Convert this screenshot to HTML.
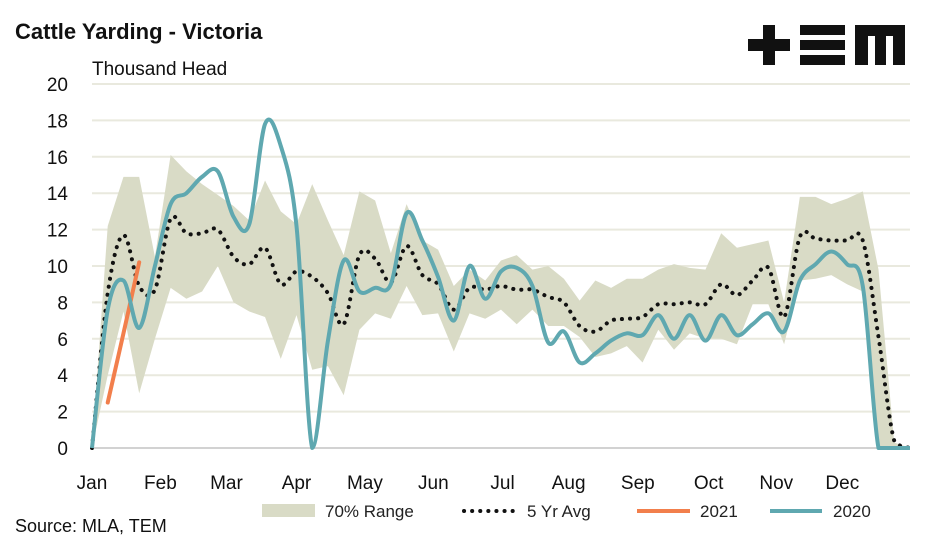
<!DOCTYPE html>
<html><head><meta charset="utf-8"><style>
body{margin:0;background:#fff;}
svg{display:block;font-family:"Liberation Sans",sans-serif;}
</style></head><body>
<svg id="c" width="947" height="543" viewBox="0 0 947 543">
<text x="15" y="39" font-size="22" font-weight="bold" fill="#111">Cattle Yarding - Victoria</text>
<text x="92" y="75" font-size="19" fill="#111">Thousand Head</text>
<g fill="#111">
<rect x="748" y="39" width="42" height="12"/><rect x="763" y="25" width="12" height="40"/>
<rect x="800" y="25" width="45" height="10"/><rect x="800" y="40" width="45" height="10"/><rect x="800" y="55" width="45" height="10"/>
<rect x="855" y="25" width="50" height="40"/><rect x="868" y="36" width="7" height="29" fill="#fff"/><rect x="886" y="36" width="7" height="29" fill="#fff"/>
</g>
<g id="grid"></g><g id="band"></g><g id="lines"></g><g id="ticks"></g>
<g>
<rect x="262" y="504" width="53" height="13" fill="#d9dbc6"/>
<text x="325" y="517" font-size="17" fill="#222">70% Range</text>
<line x1="464" y1="511" x2="515" y2="511" stroke="#111" stroke-width="4" stroke-dasharray="0.1 8" stroke-linecap="round"/>
<text x="527" y="517" font-size="17" fill="#222">5 Yr Avg</text>
<line x1="637" y1="511" x2="690" y2="511" stroke="#f27f4c" stroke-width="4"/>
<text x="700" y="517" font-size="17" fill="#222">2021</text>
<line x1="770" y1="511" x2="822" y2="511" stroke="#5fa8b0" stroke-width="4"/>
<text x="833" y="517" font-size="17" fill="#222">2020</text>
</g>
<text x="15" y="532" font-size="18" fill="#111">Source: MLA, TEM</text>
</svg>
<script>
const yTicks=[0,2,4,6,8,10,12,14,16,18,20];
const months=["Jan","Feb","Mar","Apr","May","Jun","Jul","Aug","Sep","Oct","Nov","Dec"];
const monthWeeks=[0,4.35,8.55,13,17.35,21.7,26.1,30.3,34.7,39.2,43.5,47.7];
const rangeHigh=[0,12.2,14.9,14.9,10.5,16.1,15.2,14.5,13.9,13.3,12.5,14.7,13.0,12.3,14.5,12.5,10.6,14.1,13.6,10.7,13.4,11.4,10.9,8.9,9.8,9.2,10.3,10.6,9.8,10.0,9.3,8.1,9.2,8.8,9.3,9.3,9.8,10.1,9.9,9.8,11.8,11.0,11.2,11.4,8.0,13.8,13.8,13.4,13.7,14.1,9.8,0.3,0];
const rangeLow=[0,4,7.5,3.0,6,8.8,8.2,8.6,10.0,8.0,7.5,7.2,4.9,7.3,4.3,4.5,2.9,6.5,7.4,7.1,8.9,7.3,7.4,5.3,7.4,7.1,7.6,6.8,7.6,6.7,6.7,6.1,5.0,5.2,5.6,4.7,6.5,5.4,6.3,6.0,6.0,5.7,7.9,7.9,5.7,9.2,9.3,9.5,9.0,8.6,0,0,0];
const avg5=[0,8.5,11.7,8.9,8.7,12.6,11.8,11.8,12.0,10.5,10.1,11.0,9.0,9.7,9.4,8.5,6.8,10.6,10.4,9.1,11.1,9.5,9.0,7.6,8.8,8.7,8.9,8.7,8.7,8.3,8.0,6.7,6.4,7.0,7.1,7.2,7.9,7.9,8.0,7.9,9.0,8.4,9.2,9.9,7.2,11.6,11.5,11.4,11.4,11.4,6.1,0.4,0];
const y2020=[0,7.6,9.2,6.6,10.0,13.4,14.0,14.9,15.2,12.7,12.3,17.8,16.6,12.2,0,5.9,10.3,8.6,8.8,9.0,12.9,11.4,9.4,7.0,10.0,8.2,9.7,9.9,8.9,5.8,6.4,4.7,5.2,5.9,6.3,6.2,7.3,6.0,7.3,5.9,7.3,6.2,6.8,7.4,6.4,9.2,10.1,10.8,10.1,8.9,0,0,0];
const y2021=[null,2.5,6.3,10.2];
const NS="http://www.w3.org/2000/svg";
const X=i=>92+i*15.73, Y=v=>448-v*18.2;
function mk(t,a,p){const e=document.createElementNS(NS,t);for(const k in a)e.setAttribute(k,a[k]);p.appendChild(e);return e;}
const grid=document.getElementById('grid'),ticks=document.getElementById('ticks');
yTicks.forEach(v=>{
 const l=mk('line',{x1:92,x2:910,y1:Y(v),y2:Y(v),stroke:v==0?'#d2d2d2':'#e9e9de','stroke-width':2},grid);
 
 
 const t=mk('text',{x:68,y:Y(v)+7,'text-anchor':'end','font-size':19,fill:'#111'},ticks);t.textContent=v;
 
 
});
months.forEach((m,i)=>{
 const t=mk('text',{x:X(monthWeeks[i]),y:489,'text-anchor':'middle','font-size':19,fill:'#111'},ticks);t.textContent=m;
 
 
});
let d='M'+rangeHigh.map((v,i)=>X(i)+','+Y(v)).join('L');
for(let i=rangeLow.length-1;i>=0;i--)d+='L'+X(i)+','+Y(rangeLow[i]);
const band=mk('path',{d:d+'Z',fill:'#d9dbc6'},document.getElementById('band'));


const base=Y(0);
function smooth(vals){
 const p=vals.map((v,i)=>v==null?null:[X(i),Y(v)]).filter(q=>q);
 let s='M'+p[0][0]+','+p[0][1];
 for(let i=0;i<p.length-1;i++){
  const p0=p[i-1]||p[i],p1=p[i],p2=p[i+1],p3=p[i+2]||p2;
  const c1=[p1[0]+(p2[0]-p0[0])/6,Math.min(base,p1[1]+(p2[1]-p0[1])/6)],c2=[p2[0]-(p3[0]-p1[0])/6,Math.min(base,p2[1]-(p3[1]-p1[1])/6)];
  s+='C'+c1+' '+c2+' '+p2;
 }
 return s;
}
const lines=document.getElementById('lines');
const a=mk('path',{d:smooth(avg5),fill:'none',stroke:'#111','stroke-width':4,'stroke-dasharray':'0.1 8','stroke-linecap':'round'},lines);


const b=mk('path',{d:smooth(y2021),fill:'none',stroke:'#f27f4c','stroke-width':4,'stroke-linecap':'round'},lines);


const c=mk('path',{d:smooth(y2020),fill:'none',stroke:'#5fa8b0','stroke-width':4,'stroke-linejoin':'round'},lines);


</script>
</body></html>
